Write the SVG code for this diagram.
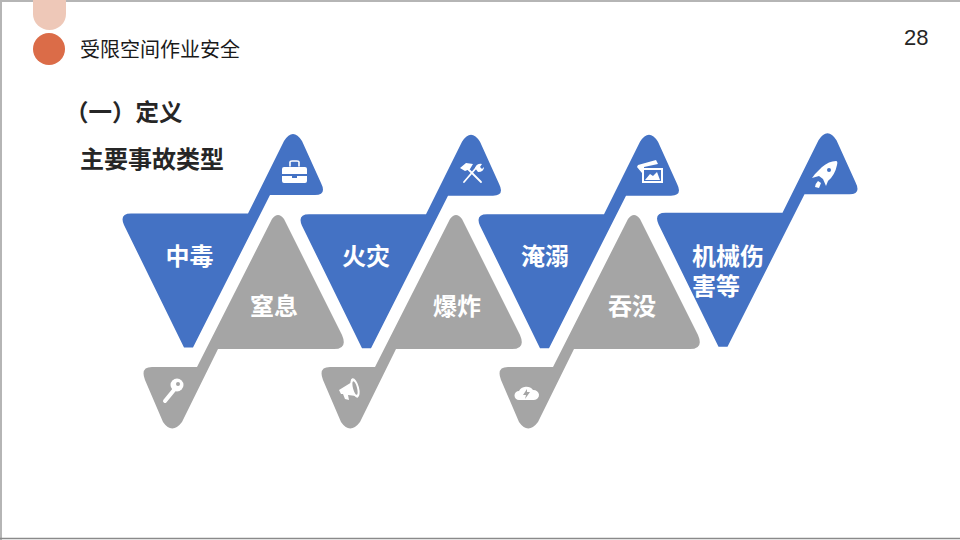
<svg xmlns="http://www.w3.org/2000/svg" width="960" height="540" viewBox="0 0 960 540">
<style>
.lbl{font-family:"Noto Sans CJK SC","Noto Sans",sans-serif;font-weight:700;font-size:24px;fill:#fff;text-anchor:middle}
.hd{font-family:"Noto Sans CJK SC","Noto Sans",sans-serif;font-weight:700;fill:#262626}
.blue{fill:#4472c4}.gray{fill:#a5a5a5}.ic{fill:#fff}.icl{fill:none;stroke:#fff;stroke-linecap:round}
</style>
<defs>
<path id="bl" d="M131 213.5L248 213.5L284 141Q293 127 302 141L321 183Q327 195 315 195L270 195L193 347.5L184 347.5L124 225Q119 213.5 131 213.5Z"/>
<path id="gr" d="M272 219Q278 211 284 219L342 335Q348 349 334 349L218 349L182 422Q172 435 163 422L145 380Q140 367 152 367L197 367Z"/>
</defs>
<rect width="960" height="540" fill="#fff"/>
<path d="M1 540V1H960" fill="none" stroke="#b5b5b5" stroke-width="2"/>
<path d="M0 538.500H960" stroke="#8a8a8a" stroke-width="1.500"/>
<g id="header">
<path d="M33 0H66V14A16.500 16 0 0 1 33 14Z" fill="#eec8b8"/>
<circle cx="49" cy="49" r="16" fill="#db6c48"/>
<text x="80" y="57" font-family="'Noto Sans CJK SC',sans-serif" font-size="20" fill="#1a1a1a">受限空间作业安全</text>
<text x="904" y="45" font-family="'Liberation Sans',sans-serif" font-size="22" fill="#262626">28</text>
<text class="hd" x="65" y="121" font-size="23.500">（一）定义</text>
<text class="hd" x="80" y="168" font-size="24">主要事故类型</text>
</g>
<g id="node-zhongdu">
<use href="#bl" class="blue"/>
<text class="lbl" x="189.500" y="265">中毒</text>
<path class="ic" d="M284 167H305Q307 167 307 169V174H282V169Q282 167 284 167ZM282 176H292V178H297V176H307V181Q307 183 305 183H284Q282 183 282 181Z"/>
<path class="icl" stroke-width="1.600" d="M290 166V162Q290 161 292 161H297Q299 161 299 162V166"/>
</g>
<g id="node-zhixi">
<use href="#gr" class="gray"/>
<text class="lbl" x="274" y="315">窒息</text>
<circle class="ic" cx="177" cy="385" r="6.500"/>
<path class="icl" stroke-width="4" d="M174 390L165 401"/>
<circle class="gray" cx="178" cy="384" r="2"/>
</g>
<g id="node-huozai">
<use href="#bl" class="blue" x="178" y="0.700"/>
<text class="lbl" x="366" y="265">火灾</text>
<path class="icl" stroke-width="1.800" d="M467 168L481 182M476 168L464 182"/>
<path class="ic" d="M460 168L466 163L473 164L470 169L465 171ZM475 168Q477 163 482 164L480 167L482 169L484 167Q484 172 478 172Z"/>
</g>
<g id="node-baozha">
<use href="#gr" class="gray" x="178"/>
<text class="lbl" x="457" y="315">爆炸</text>
<path class="ic" d="M339 390L352 382L356 396L348 395L349 400L345 399L343 394L341 394Z"/>
<ellipse class="ic" cx="355" cy="388" rx="4" ry="10" transform="rotate(-15 355 388)"/>
<ellipse class="gray" cx="355" cy="388" rx="2" ry="7" transform="rotate(-15 355 388)"/>
</g>
<g id="node-yanni">
<use href="#bl" class="blue" x="356" y="0.700"/>
<text class="lbl" x="545" y="265">淹溺</text>
<path class="ic" d="M637 167L638 165L656 160L658 164L644 167L644 173L642 173Z"/>
<rect x="643" y="169" width="19" height="13" fill="none" stroke="#fff" stroke-width="2"/>
<path class="ic" d="M645 180L650 174L653 176L657 172L660 180Z"/>
</g>
<g id="node-tunmo">
<use href="#gr" class="gray" x="356"/>
<text class="lbl" x="632" y="315">吞没</text>
<path class="ic" d="M519 400A4.500 4.500 0 0 1 519 391A8 7 0 0 1 533 390A5.500 5 0 0 1 534 400Z"/>
<path class="gray" d="M527 389L523 395H526L525 399L530 392H527Z"/>
</g>
<g id="node-jixie">
<use href="#bl" class="blue" x="534.500" y="-0.700"/>
<text class="lbl" text-anchor="start" style="text-anchor:start"><tspan x="692" y="264.500">机械伤</tspan><tspan x="692" y="295">害等</tspan></text>
<path class="ic" d="M836 161Q838 161 837 165Q835 175 828 181L826 186L823 179L819 176L812 178L815 174L822 167Q829 161 836 161ZM821 183L819 188L815 187Q815 184 818 181Z"/>
<circle cx="829" cy="170" r="2" class="blue"/>
</g>
</svg>
